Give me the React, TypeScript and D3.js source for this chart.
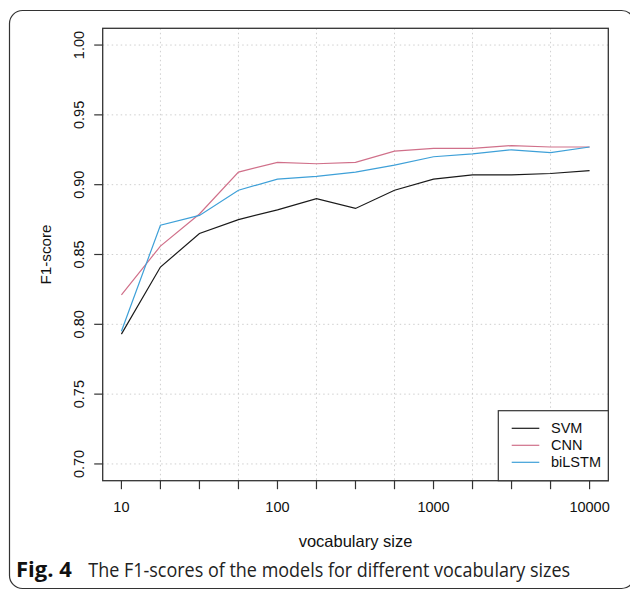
import * as d3 from "d3";

// vocabulary sizes (quarter decades from 10 to 10000)
const vocabSizes = [10, 17.78, 31.62, 56.23, 100, 177.8, 316.2, 562.3, 1000, 1778, 3162, 5623, 10000];
const svmScores = [0.793, 0.841, 0.865, 0.875, 0.882, 0.89, 0.883, 0.896, 0.904, 0.907, 0.907, 0.908, 0.91];
const cnnScores = [0.821, 0.856, 0.879, 0.909, 0.916, 0.915, 0.916, 0.924, 0.926, 0.926, 0.928, 0.927, 0.927];
const bilstmScores = [0.795, 0.871, 0.878, 0.896, 0.904, 0.906, 0.909, 0.914, 0.92, 0.922, 0.925, 0.923, 0.927];

const xLabels = [10, 100, 1000, 10000];
const xGrid = [17.78, 56.23, 177.8, 562.3, 1778, 5623];
const yTicks = [0.7, 0.75, 0.8, 0.85, 0.9, 0.95, 1.0];

const series = [
  { name: "SVM", values: svmScores, color: "#1a1a1a" },
  { name: "CNN", values: cnnScores, color: "#d0708a" },
  { name: "biLSTM", values: bilstmScores, color: "#3ea0d8" },
];

const W = 630;
const H = 591;
const left = 102.7, right = 608.3, top = 28.3, bottom = 480.7;
const font = "'Liberation Sans', Arial, sans-serif";
const capFont = "'Open Sans', 'Noto Sans', sans-serif";
const fs = 14.5;

export default function App() {
  // R style 4% padding around the data range
  const x = d3.scaleLog().domain([Math.pow(10, 0.88), Math.pow(10, 4.12)]).range([left, right]);
  const y = d3.scaleLinear().domain([0.688, 1.012]).range([bottom, top]);

  const line = d3.line<number>()
    .x((_, i) => x(vocabSizes[i]))
    .y(d => y(d));

  return (
    <div style={{ position: "absolute", left: 0, top: 0 }}>
      <svg width={W} height={H} style={{ display: "block", background: "#fff" }}>
        {/* outer figure frame */}
        <rect x={9.5} y={10.5} width={625} height={578} rx={13} fill="none" stroke="#333" strokeWidth={1.2} />

        {/* grid */}
        {yTicks.map(t => (
          <line key={"gy" + t} x1={left} x2={right} y1={y(t)} y2={y(t)}
            stroke="#cfcfcf" strokeDasharray="1.5,3" />
        ))}
        {xGrid.map(t => (
          <line key={"gx" + t} x1={x(t)} x2={x(t)} y1={top} y2={bottom}
            stroke="#cfcfcf" strokeDasharray="1.5,3" />
        ))}

        {/* lines */}
        {series.map(s => (
          <path key={s.name} d={line(s.values) || ""} fill="none" stroke={s.color} strokeWidth={1.2} />
        ))}

        {/* plot box */}
        <rect x={left} y={top} width={right - left} height={bottom - top} fill="none" stroke="#333" strokeWidth={1.3} />

        {/* x axis */}
        {vocabSizes.map(v => (
          <line key={"xt" + v} x1={x(v)} x2={x(v)} y1={bottom} y2={bottom + 8.5} stroke="#333" strokeWidth={1.2} />
        ))}
        {xLabels.map(v => (
          <text key={"xl" + v} x={x(v)} y={512} textAnchor="middle" fontFamily={font} fontSize={fs} fill="#111">
            {v}
          </text>
        ))}
        <text x={(left + right) / 2} y={547} textAnchor="middle" fontFamily={font} fontSize={16.5} fill="#111">
          vocabulary size
        </text>

        {/* y axis */}
        {yTicks.map(t => (
          <g key={"yt" + t}>
            <line x1={left - 8.5} x2={left} y1={y(t)} y2={y(t)} stroke="#333" strokeWidth={1.2} />
            <text transform={`translate(83.5,${y(t)}) rotate(-90)`} textAnchor="middle"
              fontFamily={font} fontSize={fs} fill="#111">
              {t.toFixed(2)}
            </text>
          </g>
        ))}
        <text transform={`translate(50.5,${(top + bottom) / 2}) rotate(-90)`} textAnchor="middle"
          fontFamily={font} fontSize={15.2} fill="#111">
          F1-score
        </text>

        {/* legend */}
        <rect x={498.3} y={410.7} width={right - 498.3} height={bottom - 410.7} fill="#fff" stroke="#333" strokeWidth={1.2} />
        {series.map((s, i) => (
          <g key={"lg" + s.name} transform={`translate(0,${428.3 + i * 17})`}>
            <line x1={511.7} x2={539.3} y1={0} y2={0} stroke={s.color} strokeWidth={1.2} />
            <text x={551} y={5} fontFamily={font} fontSize={fs} fill="#111">{s.name}</text>
          </g>
        ))}

        {/* caption, narrowed horizontally like the condensed original face */}
        <text transform="translate(16,577) scale(0.9,1)" fontFamily={capFont} fontSize={20.5} fontWeight="bold"
          fill="#111" textLength={62} lengthAdjust="spacingAndGlyphs">
          Fig. 4
        </text>
        <text transform="translate(88.3,577) scale(0.876,1)" fontFamily={capFont} fontSize={20.5}
          fill="#222" textLength={550} lengthAdjust="spacingAndGlyphs">
          The F1-scores of the models for different vocabulary sizes
        </text>
      </svg>
    </div>
  );
}
